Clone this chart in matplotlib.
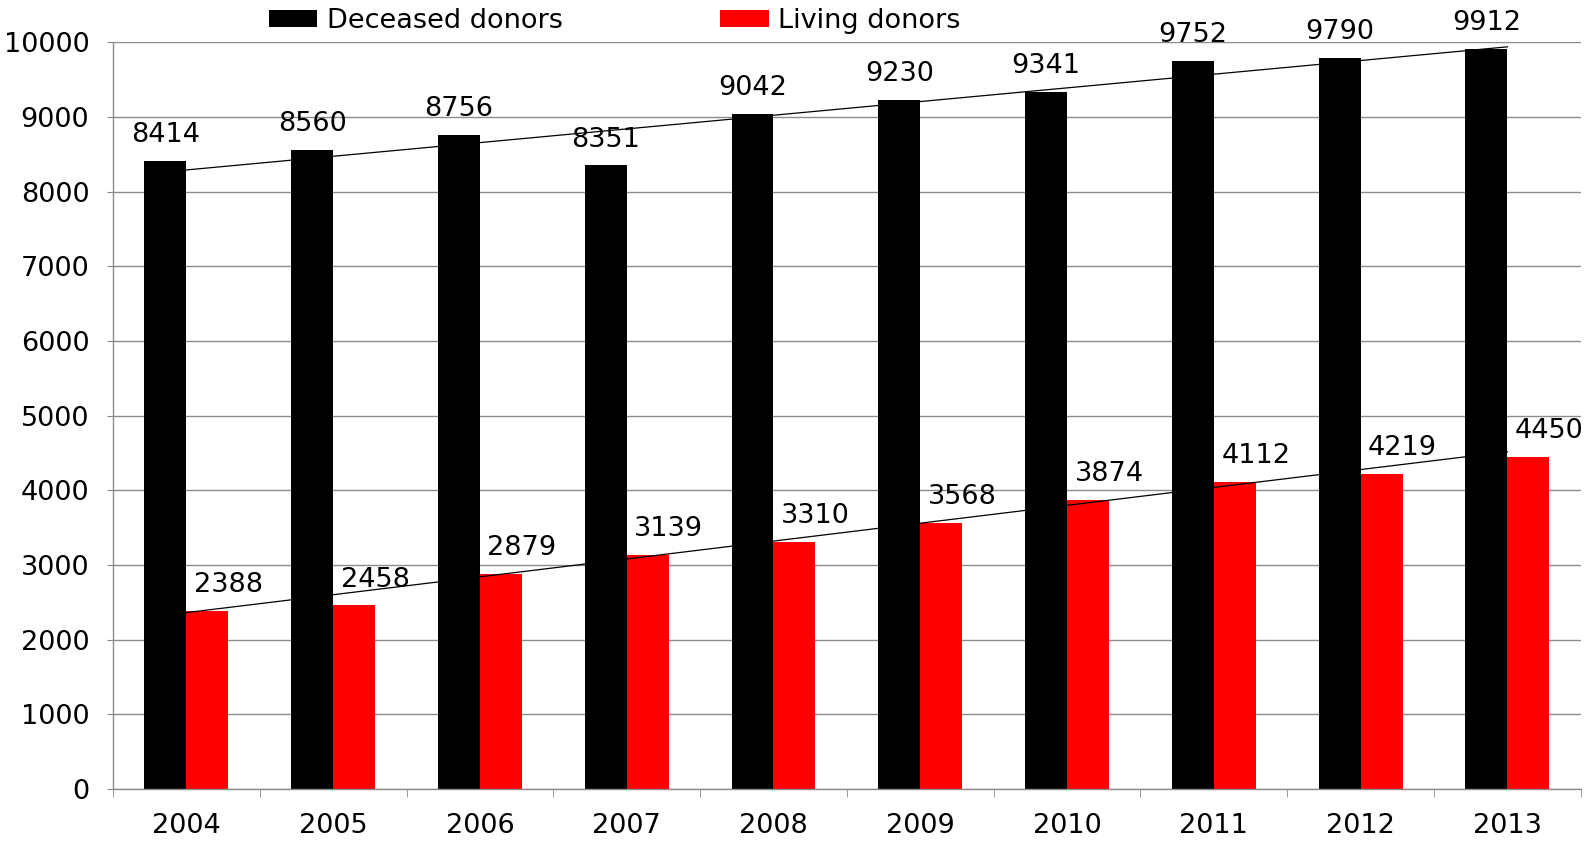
import numpy as np
import matplotlib
matplotlib.use('Agg')
import matplotlib.pyplot as plt

years = ['2004', '2005', '2006', '2007', '2008', '2009', '2010', '2011', '2012', '2013']
deceased = [8414, 8560, 8756, 8351, 9042, 9230, 9341, 9752, 9790, 9912]
living = [2388, 2458, 2879, 3139, 3310, 3568, 3874, 4112, 4219, 4450]

plt.rcParams['font.family'] = ['DejaVu Sans']
fs = 19.5
grid_col = '#8c8c8c'

fig = plt.figure(figsize=(15.84, 8.46), dpi=100)
ax = fig.add_axes([0.0713, 0.0674, 0.9267, 0.8826])

x = np.arange(len(years))
w = 0.286
ax.bar(x - w / 2, deceased, w, color='black', label='Deceased donors', zorder=2)
ax.bar(x + w / 2, living, w, color='#ff0000', label='Living donors', zorder=2)

# linear trendlines
for vals in (deceased, living):
    k, b = np.polyfit(x, vals, 1)
    ax.plot(x, k * x + b, color='black', lw=0.9, zorder=3)

# value labels
for i in range(len(years)):
    ax.annotate(str(deceased[i]), (x[i] - w / 2, deceased[i]), xytext=(0, 13.5),
                textcoords='offset points', ha='center', va='baseline', fontsize=fs,
                zorder=4)
    ax.annotate(str(living[i]), (x[i] + w, living[i]), xytext=(0, 13.5),
                textcoords='offset points', ha='center', va='baseline', fontsize=fs,
                zorder=4)

ax.set_xlim(-0.5, len(years) - 0.5)
ax.set_ylim(0, 10000)
ax.set_yticks(range(0, 10001, 1000))
ax.set_xticks(x)
ax.set_xticklabels(years)
ax.set_xticks(np.arange(-0.5, len(years), 1), minor=True)

ax.grid(axis='y', color=grid_col, lw=1, zorder=0)
ax.set_axisbelow(True)
for s in ('top', 'right'):
    ax.spines[s].set_visible(False)
for s in ('left', 'bottom'):
    ax.spines[s].set_color(grid_col)
    ax.spines[s].set_linewidth(1)

ax.tick_params(axis='y', length=4, color=grid_col, pad=13, labelsize=fs)
ax.tick_params(axis='x', which='major', length=0, pad=17, labelsize=fs)
ax.tick_params(axis='x', which='minor', length=6, color=grid_col)

fig.legend(loc='center', bbox_to_anchor=(0.388, 0.975), ncol=2, frameon=False,
           fontsize=fs, handlelength=1.8, handleheight=0.55, handletextpad=0.35,
           columnspacing=5.8, borderpad=0)

fig.savefig('out.png', dpi=100)
